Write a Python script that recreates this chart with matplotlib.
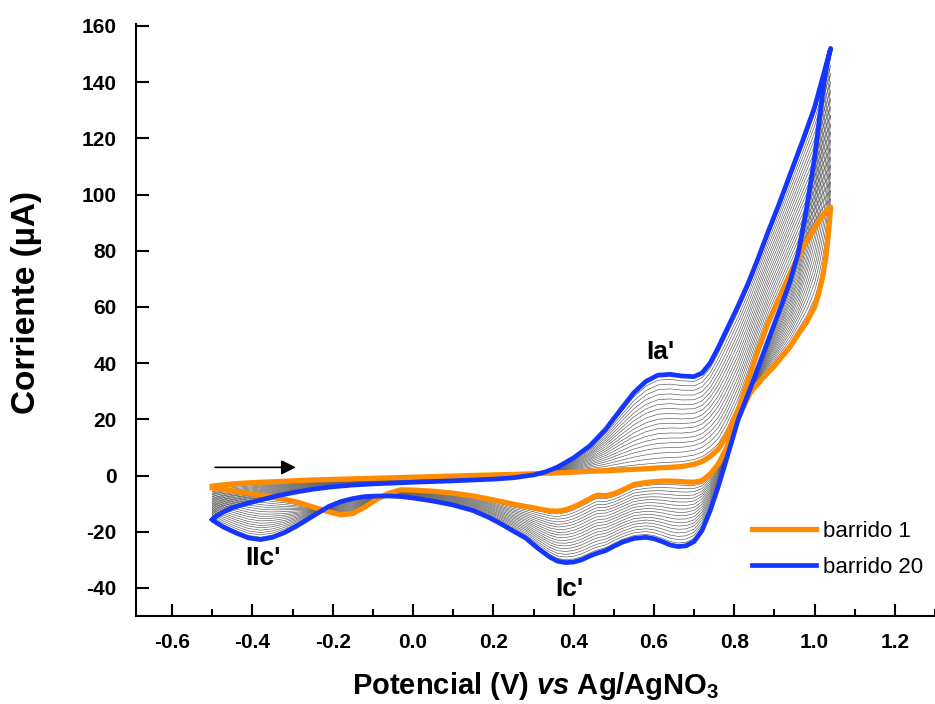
import numpy as np
import matplotlib
matplotlib.use("Agg")
import matplotlib.pyplot as plt

plt.rcParams['font.family'] = ['Liberation Sans', 'DejaVu Sans']
plt.rcParams['mathtext.fontset'] = 'custom'
plt.rcParams['mathtext.rm'] = 'Liberation Sans:bold'
plt.rcParams['mathtext.it'] = 'Liberation Sans:bold:italic'
plt.rcParams['mathtext.bf'] = 'Liberation Sans:bold'
plt.rcParams['axes.unicode_minus'] = False

# forward (anodic) branch, potential in V, current in uA
e_fwd = [-0.50, -0.49, -0.47, -0.45, -0.42, -0.38, -0.34, -0.30, -0.25, -0.20,
         -0.15, -0.10, 0.00, 0.10, 0.20, 0.25, 0.30, 0.33, 0.36, 0.40,
         0.44, 0.48, 0.52, 0.55, 0.58, 0.61, 0.64, 0.67, 0.70, 0.72,
         0.74, 0.76, 0.78, 0.81, 0.835, 0.86, 0.885, 0.91, 0.94, 0.97,
         1.00, 1.02, 1.04]
i_fwd_1 = [-3.8, -3.6, -3.3, -3.0, -2.7, -2.4, -2.2, -1.9, -1.6, -1.4,
           -1.2, -1.0, -0.6, -0.2, 0.2, 0.4, 0.6, 0.8, 0.9, 1.2,
           1.5, 1.7, 2.0, 2.2, 2.4, 2.7, 2.9, 3.2, 4.0, 5.0,
           6.8, 9.3, 14.0, 23.5, 34.0, 44.8, 54.5, 62.6, 72.0, 81.0,
           88.0, 92.5, 95.5]
i_fwd_20 = [-15.7, -14.5, -12.8, -11.5, -10.2, -8.7, -7.3, -6.1, -4.9, -4.0,
            -3.4, -3.0, -2.4, -1.9, -1.3, -0.8, 0.2, 1.3, 3.0, 6.3,
            10.5, 16.5, 24.0, 29.5, 33.5, 35.7, 36.0, 35.4, 35.2, 36.5,
            40.0, 45.5, 51.5, 60.5, 68.5, 77.5, 87.0, 96.0, 107.5, 119.0,
            131.0, 141.5, 152.0]

# reverse (cathodic) branch
e_rev = [1.04, 1.037, 1.033, 1.028, 1.02, 1.01, 1.00, 0.98, 0.96, 0.94,
         0.92, 0.90, 0.87, 0.84, 0.81, 0.78, 0.76, 0.74, 0.72, 0.70,
         0.68, 0.66, 0.64, 0.62, 0.60, 0.58, 0.55, 0.52, 0.50, 0.48,
         0.46, 0.45, 0.44, 0.42, 0.40, 0.38, 0.36, 0.34, 0.31, 0.28,
         0.25, 0.22, 0.19, 0.15, 0.10, 0.05, 0.00, -0.03, -0.06, -0.09,
         -0.12, -0.15, -0.18, -0.21, -0.25, -0.29, -0.32, -0.35, -0.38, -0.41,
         -0.44, -0.47, -0.49, -0.50]
i_rev_1 = [95.5, 90.0, 84.0, 77.5, 70.5, 64.5, 60.0, 54.5, 50.5, 46.0,
           42.5, 39.0, 34.5, 29.5, 20.5, 9.5, 4.0, 0.5, -1.8, -2.4,
           -2.3, -2.1, -2.0, -2.0, -2.2, -2.5, -3.2, -5.3, -6.5, -7.2,
           -7.0, -7.5, -8.3, -9.8, -11.2, -12.2, -12.7, -12.6, -11.8, -11.0,
           -10.2, -9.3, -8.4, -7.3, -6.3, -5.6, -5.2, -5.1, -6.3, -8.4,
           -11.2, -13.5, -14.0, -12.9, -11.2, -9.4, -8.5, -7.7, -7.0, -6.3,
           -5.7, -5.0, -4.6, -4.4]
i_rev_20 = [152.0, 150.0, 147.5, 144.0, 136.0, 124.5, 113.0, 95.0, 79.5, 69.5,
            61.5, 54.0, 42.5, 31.0, 20.0, 5.5, -4.0, -12.5, -19.5, -23.5,
            -25.0, -25.3, -24.7, -23.5, -22.5, -22.0, -22.4, -23.8, -25.2, -26.7,
            -27.6, -28.1, -28.7, -30.0, -30.8, -31.0, -30.5, -29.0, -25.8, -22.2,
            -19.8, -17.3, -15.0, -12.5, -10.5, -9.1, -8.0, -7.5, -7.3, -7.3,
            -7.5, -8.2, -9.3, -11.0, -14.5, -18.0, -20.3, -22.0, -22.8, -22.2,
            -20.5, -18.5, -16.8, -15.7]

# current at the Ia' peak (0.62 V) for sweeps 1..20
ia_peak = [2.7, 4.5, 6.2, 8.0, 9.8, 11.5, 13.2, 15.0, 16.8, 18.5,
           20.2, 22.0, 23.8, 25.5, 27.2, 29.0, 30.8, 32.5, 34.2, 36.0]

labels = ["barrido 1", "barrido 20"]
peak_names = ["Ia'", "IIc'", "Ic'"]
peak_pos = [(0.617, 44), (-0.375, -29.5), (0.388, -40.5)]

e_loop = np.array(e_fwd + e_rev)
loop_1 = np.array(i_fwd_1 + i_rev_1)
loop_20 = np.array(i_fwd_20 + i_rev_20)

fig = plt.figure(figsize=(9.35, 7.04), dpi=100)
ax = fig.add_axes([0.1455, 0.125, 0.8545, 0.841])

# intermediate sweeps 2..19
for p in ia_peak[1:-1]:
    w = (p - ia_peak[0]) / (ia_peak[-1] - ia_peak[0])
    ax.plot(e_loop, (1 - w) * loop_1 + w * loop_20, color='#555555', lw=0.45)

ax.plot(e_loop, loop_1, color='#ff8c00', lw=3.8, label=labels[0],
        solid_joinstyle='round')
ax.plot(e_loop, loop_20, color='#1436ff', lw=3.4, label=labels[1],
        solid_joinstyle='round')

for name, (x, y) in zip(peak_names, peak_pos):
    ax.text(x, y, name, fontsize=19, fontweight='bold', ha='center', va='center')

ax.annotate('', xy=(-0.285, 2.9), xytext=(-0.5, 2.9),
            arrowprops=dict(arrowstyle='-|>', color='black', lw=1.2,
                            mutation_scale=22))

ax.set_xlim(-0.69, 1.297)
ax.set_ylim(-50, 160.7)
xt = np.arange(-0.6, 1.21, 0.2)
ax.set_xticks(xt)
ax.set_xticks(np.arange(-0.5, 1.31, 0.2), minor=True)
ax.set_xticklabels(['%.1f' % v for v in xt])
ax.set_yticks(np.arange(-40, 161, 20))
ax.tick_params(axis='both', direction='in', width=1.5, labelsize=15)
ax.tick_params(axis='both', which='major', length=9)
ax.tick_params(axis='x', which='minor', direction='in', length=5, width=1.5)
ax.tick_params(axis='x', pad=12)
ax.tick_params(axis='y', pad=14)
for lab in ax.get_xticklabels() + ax.get_yticklabels():
    lab.set_fontweight('bold')

ax.spines['top'].set_visible(False)
ax.spines['right'].set_visible(False)
ax.spines['left'].set_linewidth(1.5)
ax.spines['bottom'].set_linewidth(1.5)

ax.set_xlabel(r'Potencial (V) $vs$ Ag/AgNO$_{3}$', fontsize=21, fontweight='bold',
              labelpad=13)
ax.set_ylabel('Corriente (\u00b5A)', fontsize=24, fontweight='bold')
ax.yaxis.set_label_coords(-0.118, 0.529)

ax.legend(loc='lower right', bbox_to_anchor=(1.01, 0.03), frameon=False,
          fontsize=16, handlelength=2.9, handletextpad=0.3, labelspacing=0.7)

fig.savefig('out.png', dpi=100)
